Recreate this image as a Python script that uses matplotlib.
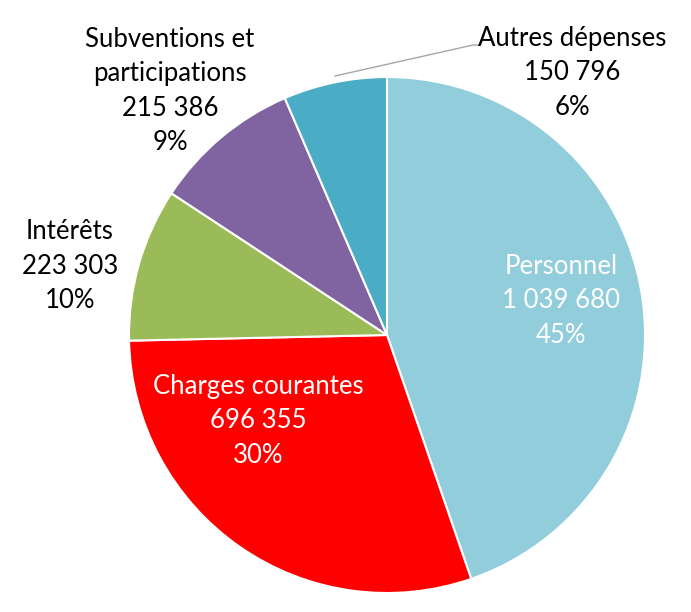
import numpy as np
import matplotlib.pyplot as plt

plt.rcParams['font.family'] = ['Lato', 'DejaVu Sans']

# Data
labels = ['Personnel', 'Charges courantes', 'Intérêts',
          'Subventions et\nparticipations', 'Autres dépenses']
values = [1039680, 696355, 223303, 215386, 150796]
colors = ['#92CDDC', '#FF0000', '#9BBB59', '#8064A2', '#4BACC6']
text_colors = ['white', 'white', 'black', 'black', 'black']

# label anchor points (pixels from top-left)
label_pos = [(561, 301), (258, 421), (70, 266), (170, 91), (572, 73)]

W, H = 691, 612
fig = plt.figure(figsize=(W / 100, H / 100), dpi=100)
ax = fig.add_axes([0, 0, 1, 1])

cx, cy, r = 387, H - 335, 258
ax.pie(values, colors=colors, startangle=90, counterclock=False,
       center=(cx, cy), radius=r, frame=True,
       wedgeprops=dict(edgecolor='white', linewidth=1.5))
ax.set_xlim(0, W)
ax.set_ylim(0, H)
ax.set_aspect('equal')
ax.axis('off')

total = sum(values)
for lab, v, tc, (px, py) in zip(labels, values, text_colors, label_pos):
    pct = round(100 * v / total)
    txt = f"{lab}\n{v:,}".replace(',', ' ') + f"\n{pct}%"
    ax.text(px, H - py, txt, ha='center', va='center', color=tc,
            fontsize=18.5, linespacing=1.47)

# leader line for "Autres dépenses"
ax.plot([335, 473, 478], [H - 76, H - 45, H - 45], color='#A6A6A6', lw=1)

fig.savefig('out.png', dpi=100, facecolor='white')
